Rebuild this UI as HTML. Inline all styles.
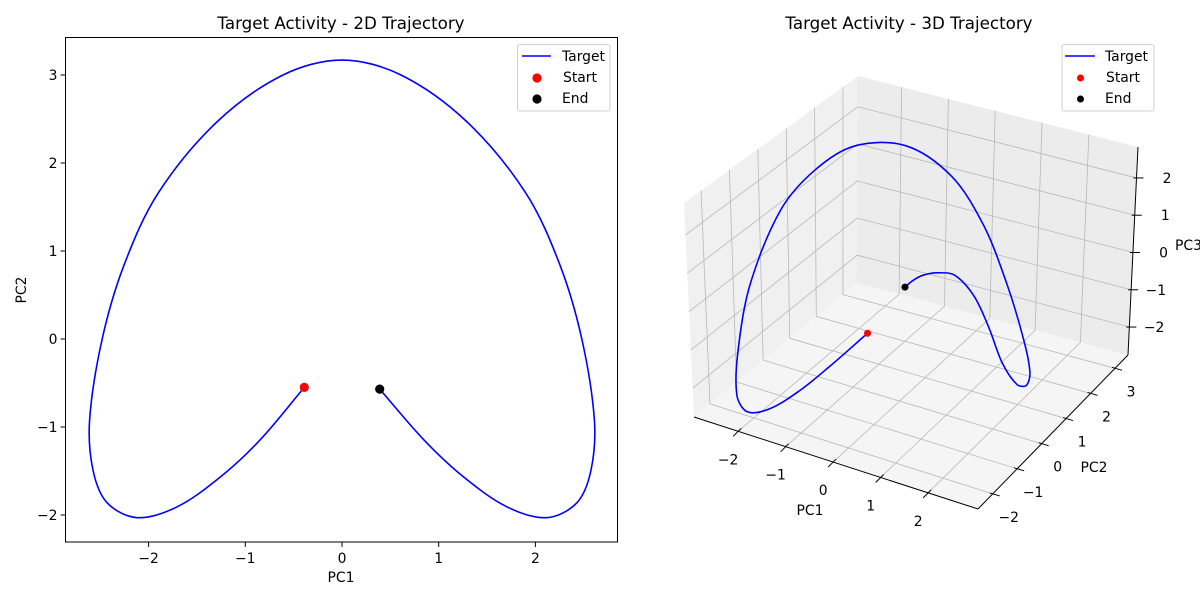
<!DOCTYPE html>
<html><head><meta charset="utf-8">
<style>
html,body{margin:0;padding:0;background:#fff;}
svg{display:block;font-family:"DejaVu Sans","Liberation Sans",sans-serif;}
</style></head>
<body>
<svg id="fig" width="1200" height="600" viewBox="0 0 1200 600" xmlns="http://www.w3.org/2000/svg">
  <g id="left"></g>
  <g id="right"></g>
</svg>
<script>
// ---- data ----
const pc1 = [-0.39,-0.85,-1.26,-1.71,-2.12,-2.43,-2.575,-2.61,-2.48,-2.254,-1.90,-1.29,-0.61,0.00,
             0.61,1.29,1.90,2.254,2.48,2.61,2.575,2.43,2.12,1.71,1.26,0.85,0.39];
const pc2 = [-0.55,-1.15,-1.57,-1.91,-2.03,-1.86,-1.49,-0.92,0.00,0.84,1.66,2.47,3.00,3.17,
             3.00,2.47,1.66,0.84,0.00,-0.92,-1.49,-1.86,-2.03,-1.91,-1.57,-1.15,-0.57];
const pc3 = [-0.77,-1.45,-2.00,-2.45,-2.62,-2.40,-1.40,-0.05,1.40,2.05,2.35,2.10,1.20,0.00,
             -1.20,-2.10,-2.35,-2.05,-1.40,-0.20,1.10,2.10,2.62,2.45,2.00,1.45,0.75];
const xTicks2d = [-2,-1,0,1,2];
const yTicks2d = [-2,-1,0,1,2,3];
const xTicks3d = [-2,-1,0,1,2];
const yTicks3d = [-2,-1,0,1,2,3];
const zTicks3d = [-2,-1,0,1,2];

const NS = "http://www.w3.org/2000/svg";
function el(parent, tag, attrs, text){
  const e = document.createElementNS(NS, tag);
  for (const k in attrs) e.setAttribute(k, attrs[k]);
  if (text !== undefined) e.textContent = text;
  parent.appendChild(e);
  return e;
}
function fmt(v){ return v < 0 ? "\u2212" + Math.abs(v) : String(v); }
function dist(a,b){ return Math.hypot(a[0]-b[0],a[1]-b[1]) || 1e-6; }
function smoothPath(pts){
  const N = pts.length;
  const tan = pts.map((p,i)=>{
    if (i===0) { const d=dist(pts[0],pts[1]); return [(pts[1][0]-p[0])/d,(pts[1][1]-p[1])/d]; }
    if (i===N-1) { const d=dist(pts[N-2],p); return [(p[0]-pts[N-2][0])/d,(p[1]-pts[N-2][1])/d]; }
    const d0=dist(pts[i-1],p), d1=dist(p,pts[i+1]);
    return [(pts[i+1][0]-pts[i-1][0])/(d0+d1),(pts[i+1][1]-pts[i-1][1])/(d0+d1)];
  });
  let d = "M" + pts[0][0].toFixed(2) + "," + pts[0][1].toFixed(2);
  for (let i = 0; i < N - 1; i++){
    const p1 = pts[i], p2 = pts[i+1], L = dist(p1,p2)/3;
    const c1 = [p1[0] + tan[i][0]*L, p1[1] + tan[i][1]*L];
    const c2 = [p2[0] - tan[i+1][0]*L, p2[1] - tan[i+1][1]*L];
    d += " C" + c1[0].toFixed(2)+","+c1[1].toFixed(2)+" "+c2[0].toFixed(2)+","+c2[1].toFixed(2)+" "+p2[0].toFixed(2)+","+p2[1].toFixed(2);
  }
  return d;
}

// ---- 2D chart ----
const L = document.getElementById("left");
const ax = {l:65.5, r:617.5, t:37.5, b:542};
const sx = v => 342 + v*96.7;
const sy = v => 339 - v*88;
el(L,"text",{x:341,y:29,"text-anchor":"middle","font-size":"16.7px",fill:"#000",},"Target Activity - 2D Trajectory");
const clip = el(L,"clipPath",{id:"c2d"});
el(clip,"rect",{x:ax.l,y:ax.t,width:ax.r-ax.l,height:ax.b-ax.t});
const pts2d = pc1.map((v,i)=>[sx(v), sy(pc2[i])]);
el(L,"path",{d:smoothPath(pts2d),fill:"none",stroke:"#0000ff","stroke-width":1.6,"clip-path":"url(#c2d)",});
el(L,"circle",{cx:sx(pc1[0]),cy:sy(pc2[0]),r:4.6,fill:"#ff0000",});
const n = pc1.length-1;
el(L,"circle",{cx:sx(pc1[n]),cy:sy(pc2[n]),r:4.6,fill:"#000",});
el(L,"rect",{x:ax.l,y:ax.t,width:ax.r-ax.l,height:ax.b-ax.t,fill:"none",stroke:"#000","stroke-width":1,});
xTicks2d.forEach(v=>{
  const t = el(L,"g",{});
  
  
  el(t,"line",{x1:sx(v),x2:sx(v),y1:ax.b,y2:ax.b+4.9,stroke:"#000","stroke-width":1});
  el(t,"text",{x:sx(v),y:ax.b+21,"text-anchor":"middle","font-size":"13.9px"},fmt(v));
});
yTicks2d.forEach(v=>{
  const t = el(L,"g",{});
  
  
  el(t,"line",{x1:ax.l,x2:ax.l-4.9,y1:sy(v),y2:sy(v),stroke:"#000","stroke-width":1});
  el(t,"text",{x:ax.l-8,y:sy(v)+5,"text-anchor":"end","font-size":"13.9px"},fmt(v));
});
el(L,"text",{x:341,y:582,"text-anchor":"middle","font-size":"13.9px",},"PC1");
el(L,"text",{x:0,y:0,"text-anchor":"middle","font-size":"13.9px",transform:"translate(26,290) rotate(-90)",},"PC2");
const lg = el(L,"g",{});
el(lg,"rect",{x:517.5,y:44.5,width:92.5,height:66.5,rx:2.5,fill:"#fff","fill-opacity":0.8,stroke:"#d0d0d0","stroke-width":1});
el(lg,"line",{x1:522,x2:551,y1:56,y2:56,stroke:"#0000ff","stroke-width":1.6,});
el(lg,"text",{x:562,y:61,"font-size":"13.9px"},"Target");
el(lg,"circle",{cx:537,cy:78,r:4.6,fill:"#ff0000",});
el(lg,"text",{x:563,y:82,"font-size":"13.9px"},"Start");
el(lg,"circle",{cx:537,cy:99,r:4.6,fill:"#000",});
el(lg,"text",{x:562,y:103,"font-size":"13.9px"},"End");

// ---- 3D chart ----
const R = document.getElementById("right");
const lim = {x:[-2.93,3.05], y:[-2.6,3.53], z:[-2.75,2.83]};
const C = {
  "000":[694,417], "100":[978,509], "110":[1128,355], "010":[857,283],
  "001":[684,203], "101":[988,295], "111":[1138,147], "011":[858,76]
};
function P(x,y,z){
  const u=(x-lim.x[0])/(lim.x[1]-lim.x[0]), v=(y-lim.y[0])/(lim.y[1]-lim.y[0]), w=(z-lim.z[0])/(lim.z[1]-lim.z[0]);
  let px=0, py=0;
  for (const a of [0,1]) for (const b of [0,1]) for (const c of [0,1]){
    const wt=(a?u:1-u)*(b?v:1-v)*(c?w:1-w);
    const k=C[""+a+b+c]; px+=wt*k[0]; py+=wt*k[1];
  }
  return [px,py];
}
const X0=lim.x[0],X1=lim.x[1],Y0=lim.y[0],Y1=lim.y[1],Z0=lim.z[0],Z1=lim.z[1];
function poly(parent, arr, attrs){ return el(parent,"polygon",Object.assign({points:arr.map(p=>p[0].toFixed(1)+","+p[1].toFixed(1)).join(" ")},attrs)); }
poly(R,[P(X0,Y0,Z0),P(X0,Y1,Z0),P(X0,Y1,Z1),P(X0,Y0,Z1)],{fill:"#f0f0f0",});
poly(R,[P(X0,Y1,Z0),P(X1,Y1,Z0),P(X1,Y1,Z1),P(X0,Y1,Z1)],{fill:"#ececec",});
poly(R,[P(X0,Y0,Z0),P(X1,Y0,Z0),P(X1,Y1,Z0),P(X0,Y1,Z0)],{fill:"#f5f5f5",});
const grid = el(R,"g",{stroke:"#b8b8b8","stroke-width":0.8,fill:"none",});
function seg(g,a,b,attrs){ return el(g,"line",Object.assign({x1:a[0],y1:a[1],x2:b[0],y2:b[1]},attrs||{})); }
xTicks3d.forEach(v=>{ seg(grid,P(v,Y0,Z0),P(v,Y1,Z0)); seg(grid,P(v,Y1,Z0),P(v,Y1,Z1)); });
yTicks3d.forEach(v=>{ seg(grid,P(X0,v,Z0),P(X1,v,Z0)); seg(grid,P(X0,v,Z0),P(X0,v,Z1)); });
zTicks3d.forEach(v=>{ seg(grid,P(X0,Y1,v),P(X1,Y1,v)); seg(grid,P(X0,Y0,v),P(X0,Y1,v)); });
const axl = el(R,"g",{stroke:"#000","stroke-width":1,});
seg(axl,P(X0,Y0,Z0),P(X1,Y0,Z0));
seg(axl,P(X1,Y0,Z0),P(X1,Y1,Z0));
seg(axl,P(X1,Y1,Z0),P(X1,Y1,Z1));
xTicks3d.forEach(v=>{
  const p=P(v,Y0,Z0);
  const t=el(R,"g",{});
  
  
  seg(t,[p[0]+3,p[1]-3],[p[0]-5,p[1]+5],{stroke:"#000","stroke-width":1});
  el(t,"text",{x:p[0]-10,y:p[1]+33,"text-anchor":"middle","font-size":"13.9px"},fmt(v));
});
yTicks3d.forEach(v=>{
  const p=P(X1,v,Z0);
  const t=el(R,"g",{});
  
  
  seg(t,[p[0]-3,p[1]-1],[p[0]+7,p[1]+2],{stroke:"#000","stroke-width":1});
  el(t,"text",{x:p[0]+16,y:p[1]+28,"text-anchor":"middle","font-size":"13.9px"},fmt(v));
});
zTicks3d.forEach(v=>{
  const p=P(X1,Y1,v);
  const t=el(R,"g",{});
  
  
  seg(t,[p[0]-3,p[1]],[p[0]+7,p[1]],{stroke:"#000","stroke-width":1});
  el(t,"text",{x:p[0]+35,y:p[1]+5,"text-anchor":"end","font-size":"13.9px"},fmt(v));
});
el(R,"text",{x:810,y:515,"text-anchor":"middle","font-size":"13.9px",},"PC1");
el(R,"text",{x:1094,y:472,"text-anchor":"middle","font-size":"13.9px",},"PC2");
el(R,"text",{x:1175,y:250,"font-size":"13.9px",},"PC3");
el(R,"text",{x:909,y:29,"text-anchor":"middle","font-size":"16.7px",},"Target Activity - 3D Trajectory");
const pts3d = pc1.map((v,i)=>P(v,pc2[i],pc3[i]));
el(R,"path",{d:smoothPath(pts3d),fill:"none",stroke:"#0000ff","stroke-width":1.6,});
const s3=P(pc1[0],pc2[0],pc3[0]), e3=P(pc1[n],pc2[n],pc3[n]);
el(R,"circle",{cx:s3[0],cy:s3[1],r:3.5,fill:"#ff0000",});
el(R,"circle",{cx:e3[0],cy:e3[1],r:3.5,fill:"#000",});
const lg3 = el(R,"g",{});
el(lg3,"rect",{x:1062,y:44.5,width:92,height:66.5,rx:2.5,fill:"#fff","fill-opacity":0.8,stroke:"#d0d0d0","stroke-width":1});
el(lg3,"line",{x1:1065,x2:1095,y1:56,y2:56,stroke:"#0000ff","stroke-width":1.6,});
el(lg3,"text",{x:1105,y:61,"font-size":"13.9px"},"Target");
el(lg3,"circle",{cx:1080.5,cy:78,r:3.5,fill:"#ff0000",});
el(lg3,"text",{x:1106,y:82,"font-size":"13.9px"},"Start");
el(lg3,"circle",{cx:1080.5,cy:99,r:3.5,fill:"#000",});
el(lg3,"text",{x:1105,y:103,"font-size":"13.9px"},"End");
</script>
</body></html>
